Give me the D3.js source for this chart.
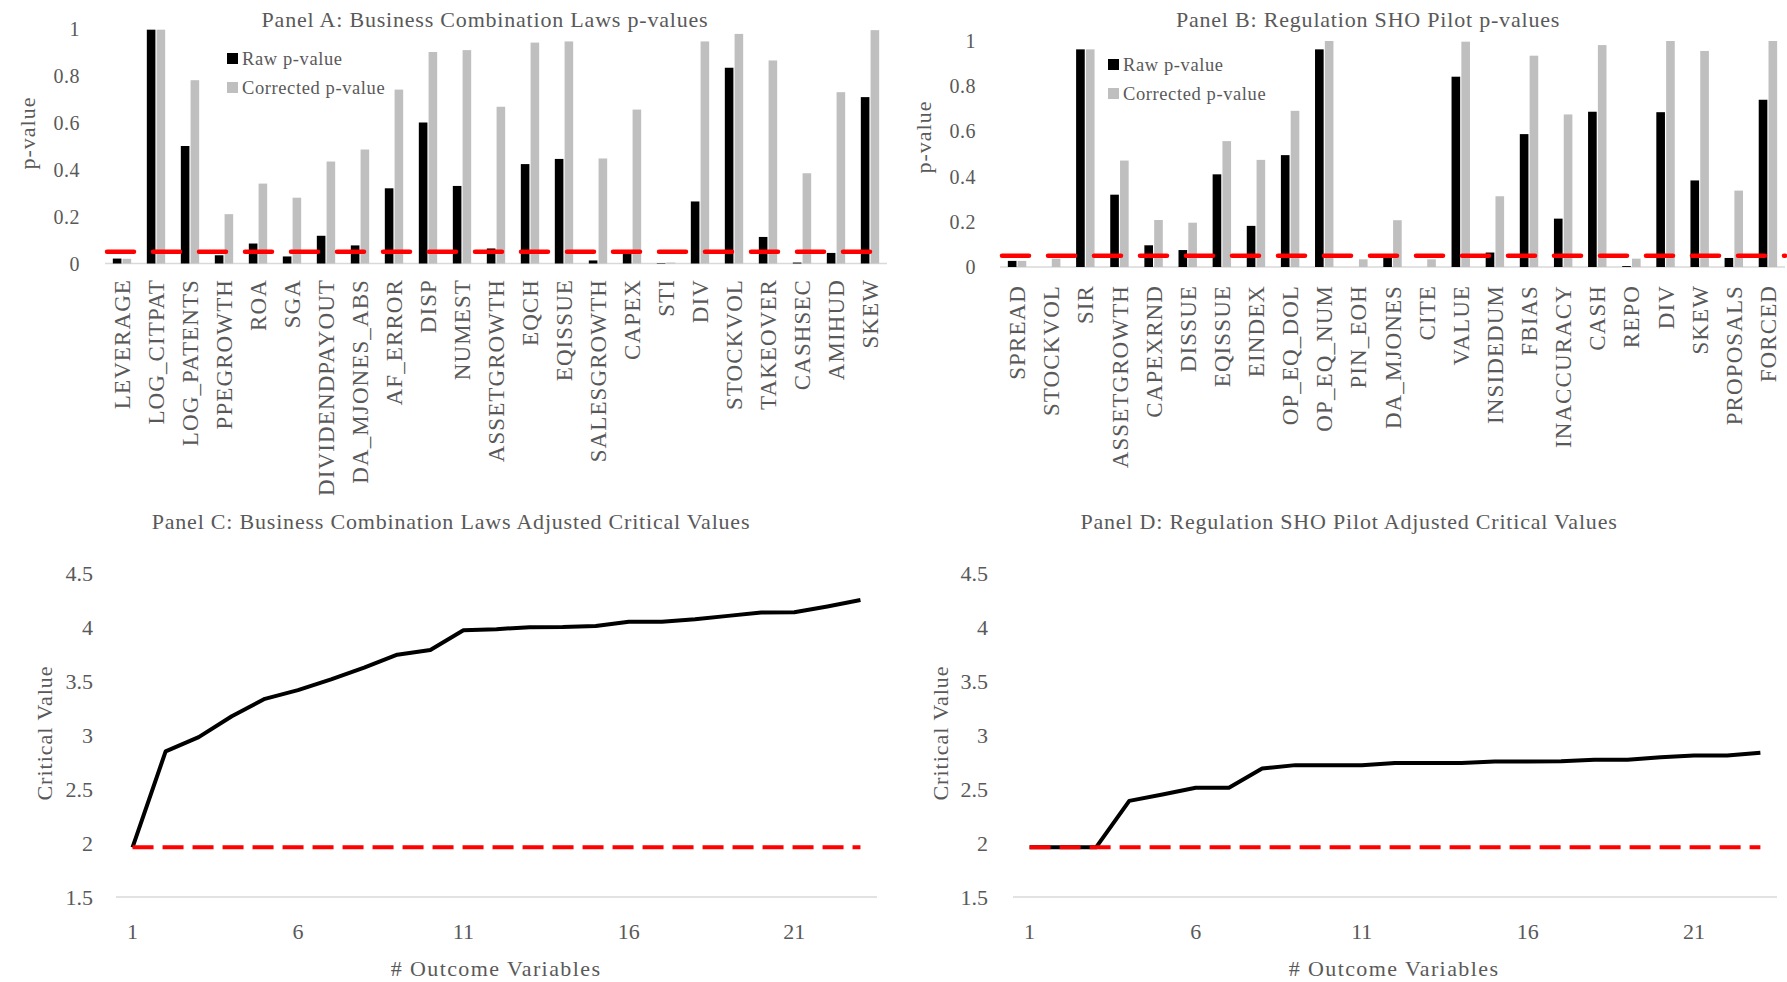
<!DOCTYPE html>
<html lang="en">
<head>
<meta charset="UTF-8">
<title>p-values and adjusted critical values</title>
<script src="https://d3js.org/d3.v7.min.js"></script>
<style>
  body { margin: 0; background: #fff; }
  svg text { font-family: "Liberation Serif", "DejaVu Serif", serif; fill: #595959; }
  .ttl { font-size: 22px; letter-spacing: 0.8px; }
  .lab { font-size: 22px; letter-spacing: 1px; }
  .cat { font-size: 23px; letter-spacing: 1.1px; }
  .leg { font-size: 18.5px; letter-spacing: 0.6px; }
</style>
</head>
<body>
<div id="chart"></div>
<script>
// --- data ---
const catsA = ["LEVERAGE","LOG_CITPAT","LOG_PATENTS","PPEGROWTH","ROA","SGA","DIVIDENDPAYOUT",
  "DA_MJONES_ABS","AF_ERROR","DISP","NUMEST","ASSETGROWTH","EQCH","EQISSUE","SALESGROWTH",
  "CAPEX","STI","DIV","STOCKVOL","TAKEOVER","CASHSEC","AMIHUD","SKEW"];
const rawA = [0.021,0.995,0.50,0.035,0.085,0.030,0.118,0.077,0.32,0.60,0.33,0.064,0.423,0.445,
  0.013,0.05,0.002,0.264,0.833,0.113,0.004,0.045,0.708];
const corrA = [0.02,0.995,0.78,0.21,0.34,0.28,0.434,0.485,0.74,0.90,0.908,0.667,0.94,0.945,
  0.447,0.655,0.004,0.945,0.977,0.864,0.384,0.729,0.993];

const catsB = ["SPREAD","STOCKVOL","SIR","ASSETGROWTH","CAPEXRND","DISSUE","EQISSUE","EINDEX",
  "OP_EQ_DOL","OP_EQ_NUM","PIN_EOH","DA_MJONES","CITE","VALUE","INSIDEDUM","FBIAS","INACCURACY",
  "CASH","REPO","DIV","SKEW","PROPOSALS","FORCED"];
const rawB = [0.027,0,0.963,0.32,0.096,0.075,0.41,0.182,0.495,0.963,0,0.045,0,0.842,0.064,
  0.588,0.214,0.687,0.004,0.685,0.383,0.04,0.74];
const corrB = [0.027,0.037,0.963,0.471,0.208,0.196,0.557,0.474,0.691,1.0,0.034,0.207,0.034,
  0.997,0.313,0.935,0.675,0.982,0.037,1.0,0.956,0.338,1.0];

const pTicks = [0, 0.2, 0.4, 0.6, 0.8, 1];
const alpha = 0.05;

const nOutcomes = d3.range(1, 24);
const critC = [1.96,2.848,2.98,3.174,3.335,3.415,3.515,3.623,3.744,3.787,3.97,3.98,3.998,4.0,
  4.01,4.048,4.048,4.072,4.103,4.134,4.137,4.19,4.25];
const critD = [1.96,1.96,1.96,2.39,2.449,2.511,2.511,2.69,2.721,2.721,2.721,2.74,2.74,2.74,
  2.755,2.755,2.758,2.77,2.77,2.793,2.81,2.81,2.836];
const critTicks = [1.5, 2, 2.5, 3, 3.5, 4, 4.5];
const xTickLabels = [1, 6, 11, 16, 21];
const baseCrit = 1.96;

const svg = d3.select("#chart").append("svg")
  .attr("width", 1787).attr("height", 982);

// --- bar panels ---
function barPanel(o) {
  const g = svg.append("g");
  const x0 = d3.scaleBand().domain(o.cats).range(o.xr).paddingInner(0.46).paddingOuter(0.23);
  const x1 = d3.scaleBand().domain(["raw","corr"]).range([0, x0.bandwidth()]).paddingInner(0.12);
  const y = d3.scaleLinear().domain([0, 1]).range(o.yr);

  g.append("line")
    .attr("x1", o.xr[0]).attr("x2", o.xr[1])
    .attr("y1", y(0)).attr("y2", y(0))
    .attr("stroke", "#d9d9d9").attr("stroke-width", 1.5);

  g.selectAll("text.ytick").data(pTicks).enter().append("text")
    .attr("x", o.tickX).attr("y", d => y(d))
    .attr("dy", "0.35em").attr("text-anchor", "end")
    .style("font-size", "20px").style("letter-spacing", "0.5px").text(d => d);

  const rows = o.cats.map((c, i) => ({ c, raw: o.raw[i], corr: o.corr[i] }));
  const grp = g.selectAll("g.cat").data(rows).enter().append("g")
    .attr("transform", d => `translate(${x0(d.c)},0)`);
  grp.append("rect")
    .attr("x", x1("raw")).attr("width", x1.bandwidth())
    .attr("y", d => y(d.raw)).attr("height", d => y(0) - y(d.raw))
    .attr("fill", "#000");
  grp.append("rect")
    .attr("x", x1("corr")).attr("width", x1.bandwidth())
    .attr("y", d => y(d.corr)).attr("height", d => y(0) - y(d.corr))
    .attr("fill", "#bfbfbf");

  // significance threshold
  g.append("line")
    .attr("x1", o.xr[0] + 2).attr("x2", o.xr[1])
    .attr("y1", y(alpha)).attr("y2", y(alpha))
    .attr("stroke", "#ff0000").attr("stroke-width", 4.5)
    .attr("stroke-linecap", "round").attr("stroke-dasharray", "27,19");

  g.selectAll("text.cat").data(o.cats).enter().append("text")
    .attr("class", "cat")
    .attr("transform", d => `translate(${x0(d) + x0.bandwidth() / 2},${o.labelY}) rotate(-90)`)
    .attr("dy", "0.35em").attr("text-anchor", "end")
    .text(d => d);

  g.append("text").attr("class", "ttl")
    .attr("x", o.titleX).attr("y", 19).attr("dy", "0.35em")
    .attr("text-anchor", "middle").text(o.title);

  g.append("text").attr("class", "lab")
    .attr("transform", `translate(${o.ylabX},${o.ylabY}) rotate(-90)`)
    .attr("dy", "0.35em").attr("text-anchor", "middle")
    .text("p-value");

  const leg = g.append("g").attr("transform", `translate(${o.legX},${o.legY})`);
  [["Raw p-value", "#000"], ["Corrected p-value", "#bfbfbf"]].forEach((d, i) => {
    leg.append("rect").attr("x", 0).attr("y", i * 29 - 6).attr("width", 11).attr("height", 11)
      .attr("fill", d[1]);
    leg.append("text").attr("class", "leg").attr("x", 15).attr("y", i * 29).attr("dy", "0.35em")
      .text(d[0]);
  });
}

barPanel({ cats: catsA, raw: rawA, corr: corrA, xr: [105, 887], yr: [263.5, 28.5],
  tickX: 80, labelY: 279, title: "Panel A: Business Combination Laws p-values",
  titleX: 485, ylabX: 27, ylabY: 133, legX: 227, legY: 59 });
barPanel({ cats: catsB, raw: rawB, corr: corrB, xr: [1000, 1785], yr: [267, 41],
  tickX: 976, labelY: 285, title: "Panel B: Regulation SHO Pilot p-values",
  titleX: 1368, ylabX: 923, ylabY: 137, legX: 1108, legY: 65 });

// --- line panels ---
function linePanel(o) {
  const g = svg.append("g");
  const x = d3.scaleBand().domain(nOutcomes).range(o.xr);
  const cx = d => x(d) + x.bandwidth() / 2;
  const y = d3.scaleLinear().domain([1.5, 4.5]).range([897, 573]);

  g.append("line")
    .attr("x1", o.xr[0]).attr("x2", o.xr[1])
    .attr("y1", y(1.5)).attr("y2", y(1.5))
    .attr("stroke", "#d9d9d9").attr("stroke-width", 1.5);

  g.selectAll("text.ytick").data(critTicks).enter().append("text")
    .attr("x", o.tickX).attr("y", d => y(d)).attr("dy", "0.35em")
    .attr("text-anchor", "end").style("font-size", "22px").text(d => d);

  g.selectAll("text.xtick").data(xTickLabels).enter().append("text")
    .attr("x", d => cx(d)).attr("y", 931).attr("dy", "0.35em")
    .attr("text-anchor", "middle").style("font-size", "22px").text(d => d);

  const line = d3.line().x((d, i) => cx(nOutcomes[i])).y(d => y(d));
  g.append("path").datum(o.vals)
    .attr("d", line).attr("fill", "none")
    .attr("stroke", "#000").attr("stroke-width", 4).attr("stroke-linejoin", "round");

  g.append("path").datum(nOutcomes.map(() => baseCrit))
    .attr("d", line).attr("fill", "none")
    .attr("stroke", "#ff0000").attr("stroke-width", 4).attr("stroke-dasharray", "21,9");

  g.append("text").attr("class", "ttl")
    .attr("x", o.titleX).attr("y", 521).attr("dy", "0.35em")
    .attr("text-anchor", "middle").text(o.title);

  g.append("text").attr("class", "lab")
    .attr("transform", `translate(${o.ylabX},733) rotate(-90)`)
    .attr("dy", "0.35em").attr("text-anchor", "middle")
    .text("Critical Value");

  g.append("text").attr("class", "lab")
    .attr("x", o.xlabX).attr("y", 968).attr("dy", "0.35em")
    .attr("text-anchor", "middle").style("letter-spacing", "1.4px").text("# Outcome Variables");
}

linePanel({ vals: critC, xr: [116, 877], tickX: 93,
  title: "Panel C: Business Combination Laws Adjusted Critical Values",
  titleX: 451, ylabX: 44, xlabX: 496 });
linePanel({ vals: critD, xr: [1013, 1777], tickX: 988,
  title: "Panel D: Regulation SHO Pilot Adjusted Critical Values",
  titleX: 1349, ylabX: 940, xlabX: 1394 });
</script>
</body>
</html>
